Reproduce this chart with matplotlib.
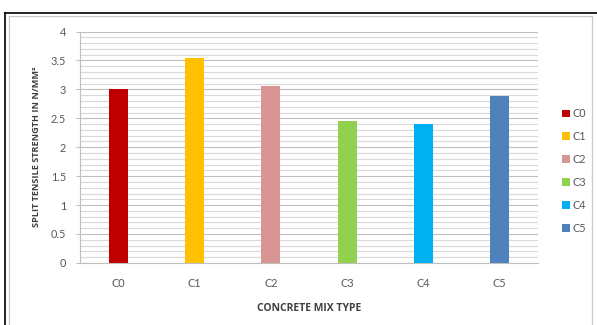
import matplotlib
matplotlib.use("Agg")
import matplotlib.pyplot as plt
from matplotlib.lines import Line2D
from matplotlib.patches import Patch

# ------------------------------------------------------------
# Data
# ------------------------------------------------------------
mix_types = ["C0", "C1", "C2", "C3", "C4", "C5"]
split_tensile = [3.0, 3.55, 3.05, 2.46, 2.41, 2.88]
bar_colors = ["#C00000", "#FFC000", "#D99594", "#92D050", "#00B0F0", "#4F81BD"]
y_ticks = [0, 0.5, 1, 1.5, 2, 2.5, 3, 3.5, 4]
y_tick_labels = ["0", "0.5", "1", "1.5", "2", "2.5", "3", "3.5", "4"]

plt.rcParams["font.family"] = ["Lato", "DejaVu Sans"]
bold_family = ["Open Sans", "Liberation Sans", "DejaVu Sans"]
text_grey = "#595959"

fig = plt.figure(figsize=(5.97, 3.25), dpi=100)
ax = fig.add_axes([0.134, 0.191, 0.767, 0.712])

# minor and major gridlines
for v in range(41):
    y = v / 10
    major = v % 5 == 0
    ax.axhline(y, color="#BFBFBF" if major else "#D9D9D9",
               lw=0.8, zorder=0)

positions = list(range(len(mix_types)))
ax.bar(positions, split_tensile, width=0.25, color=bar_colors, zorder=3)

ax.set_xlim(-0.5, 5.5)
ax.set_ylim(0, 4)
ax.set_yticks(y_ticks)
ax.set_yticklabels(y_tick_labels)
ax.set_xticks(positions)
ax.set_xticklabels(mix_types)

for side in ["top", "right"]:
    ax.spines[side].set_visible(False)
for side in ["left", "bottom"]:
    ax.spines[side].set_color("#BFBFBF")
    ax.spines[side].set_linewidth(0.8)

ax.tick_params(axis="y", length=3, color="#BFBFBF", labelsize=7.8,
               labelcolor=text_grey, pad=7)
ax.tick_params(axis="x", length=0, labelsize=7.8, labelcolor=text_grey, pad=11)

ax.set_ylabel("SPLIT TENSILE STRENGTH IN N/MM²", fontsize=6.6,
              fontweight="bold", family=bold_family, color="#404040",
              labelpad=7)
ax.set_xlabel("CONCRETE MIX TYPE", fontsize=7.5, fontweight="bold",
              family=bold_family, color="#404040", labelpad=10)

# legend on the right
handles = [Patch(facecolor=c, edgecolor="none") for c in bar_colors]
fig.legend(handles, mix_types, loc="center left",
           bbox_to_anchor=(0.925, 0.474), frameon=False, fontsize=7.8,
           handlelength=0.7, handleheight=0.7, handletextpad=0.3,
           labelspacing=1.1, labelcolor=text_grey)

# outer frame (black) and inner frame (grey)
fig.add_artist(Line2D([0.0084, 1.0], [0.961, 0.961], color="black",
                      lw=1.2, transform=fig.transFigure))
fig.add_artist(Line2D([0.0084, 0.0084], [0.961, 0.0], color="black",
                      lw=1.2, transform=fig.transFigure))
fig.add_artist(Line2D([0.0159, 0.9916], [0.951, 0.951], color="#C8C8C8",
                      lw=0.9, transform=fig.transFigure))
fig.add_artist(Line2D([0.0159, 0.0159], [0.951, 0.0], color="#C8C8C8",
                      lw=0.9, transform=fig.transFigure))
fig.add_artist(Line2D([0.9916, 0.9916], [0.951, 0.0], color="#C8C8C8",
                      lw=0.9, transform=fig.transFigure))

fig.savefig("out.png", dpi=100)
